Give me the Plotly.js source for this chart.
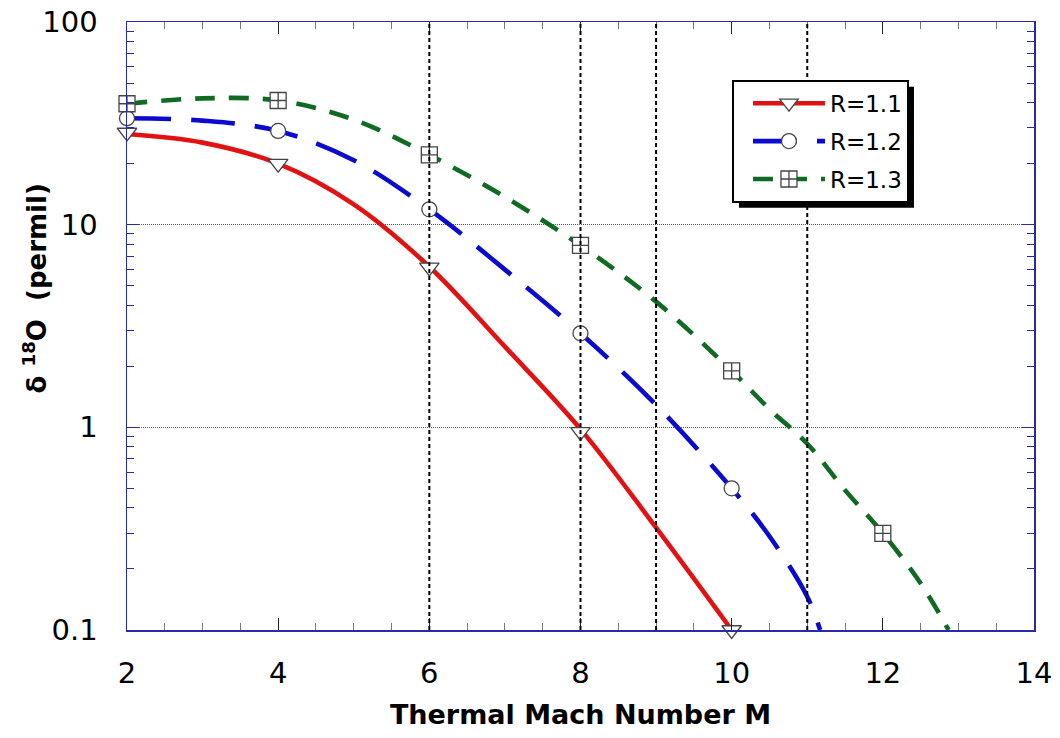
<!DOCTYPE html>
<html><head><meta charset="utf-8">
<script src="https://cdn.plot.ly/plotly-3.0.1.min.js"></script>
<style>html,body{margin:0;padding:0;background:#fff}#chart{width:1060px;height:738px}</style>
</head><body><div id="chart"></div>
<script>
// ---- data ----
const seriesNames = ['R=1.1', 'R=1.2', 'R=1.3'];

const machR11  = [2, 3, 4, 5, 6, 7, 8, 9, 10];
const deltaR11 = [28, 25.4, 20, 12.6, 6.2, 2.5, 0.98, 0.32, 0.1];
const markMachR11  = [2, 4, 6, 8, 10];
const markDeltaR11 = [28.5, 20, 6.15, 0.95, 0.1];

const machR12  = [2, 3, 4, 5, 6, 7, 8, 9, 10, 10.5, 11, 11.17];
const deltaR12 = [33.5, 32.6, 29, 20.8, 11.9, 6.0, 2.91, 1.29, 0.50, 0.29, 0.146, 0.1];
const markMachR12  = [2, 4, 6, 8, 10];
const markDeltaR12 = [33.5, 29, 11.9, 2.91, 0.50];

const machR13  = [2, 3, 4, 5, 6, 7, 8, 9, 10, 10.5, 11, 11.5, 12, 12.5, 12.87];
const deltaR13 = [39.5, 42, 41, 33, 22.1, 13.7, 7.9, 4.17, 1.9, 1.23, 0.83, 0.49, 0.30, 0.17, 0.1];
const markMachR13  = [2, 4, 6, 8, 10, 12];
const markDeltaR13 = [39.5, 41, 22.1, 7.9, 1.9, 0.30];

const refMach = [6, 8, 9, 11];   // vertical dotted reference lines

// ---- styles ----
const styles = [
  {color: '#e31212', dash: 'solid',     symbol: 'triangle-down', size: 17},
  {color: '#0a0ad0', dash: '44px,20px', symbol: 'circle',        size: 15},
  {color: '#0f6b22', dash: '20px,14px', symbol: 'square-cross',  size: 16}
];
const curves = [[machR11, deltaR11], [machR12, deltaR12], [machR13, deltaR13]];
const marks  = [[markMachR11, markDeltaR11], [markMachR12, markDeltaR12], [markMachR13, markDeltaR13]];

const data = [];
curves.forEach((c, i) => {
  data.push({
    x: c[0], y: c[1], type: 'scatter', mode: 'lines', showlegend: false,
    line: {color: styles[i].color, width: 4.6, dash: styles[i].dash, shape: 'spline', smoothing: 1},
    hoverinfo: 'skip'
  });
});
marks.forEach((m, i) => {
  data.push({
    x: m[0], y: m[1], type: 'scatter', mode: 'markers', showlegend: false, cliponaxis: false,
    marker: {symbol: styles[i].symbol, size: styles[i].size, color: '#ffffff',
             line: {color: '#444444', width: 1.3}}
  });
});
seriesNames.forEach((name, i) => {
  data.push({
    x: [null], y: [null], type: 'scatter', mode: 'lines+markers', name: name,
    legendgroup: 'g' + i,
    line: {color: styles[i].color, width: 4.6, dash: styles[i].dash},
    marker: {symbol: styles[i].symbol, size: styles[i].size, color: '#ffffff',
             line: {color: '#444444', width: 1.3}}
  });
});

const axisBlue = '#2a2aa8';
const shapes = refMach.map(v => ({
  type: 'line', xref: 'x', yref: 'paper', x0: v, x1: v, y0: 0, y1: 1,
  layer: 'above', line: {color: '#000', width: 2, dash: '4px,3px'}
}));

const layout = {
  width: 1060, height: 738,
  margin: {l: 127, r: 26, t: 22, b: 108},
  paper_bgcolor: '#ffffff', plot_bgcolor: '#ffffff',
  font: {family: 'DejaVu Sans, sans-serif', color: '#000'},
  showlegend: true,
  xaxis: {
    range: [2, 14], tick0: 2, dtick: 2, ticks: 'inside', ticklen: 12, tickcolor: '#222', tickwidth: 1,
    minor: {dtick: 0.5, ticks: 'inside', ticklen: 7, tickcolor: '#777', tickwidth: 1},
    showline: true, linecolor: axisBlue, linewidth: 1.5, mirror: 'allticks',
    showgrid: false, zeroline: false,
    tickfont: {size: 29, color: '#000'}, ticklabelstandoff: 17,
    title: {text: 'Thermal Mach Number M', font: {size: 27, weight: 'bold', color: '#000'}, standoff: 16}
  },
  yaxis: {
    type: 'log', range: [-1, 2], dtick: 1, ticks: 'inside', ticklen: 12, tickcolor: axisBlue, tickwidth: 1,
    minor: {dtick: 'D1', ticks: 'inside', ticklen: 7, tickcolor: axisBlue, tickwidth: 1, showgrid: false},
    showline: true, linecolor: axisBlue, linewidth: 1.5, mirror: 'allticks',
    showgrid: true, gridcolor: '#3a3aff', gridwidth: 1, griddash: '1px,1px', zeroline: false,
    tickfont: {size: 29, color: '#000'}, ticklabelstandoff: 22
  },
  legend: {
    x: 0.667, y: 0.905, xanchor: 'left', yanchor: 'top',
    bgcolor: '#ffffff', bordercolor: '#000', borderwidth: 2,
    font: {size: 23, color: '#000'}, itemwidth: 72, indentation: 14,
    tracegroupgap: 5, traceorder: 'grouped'
  },
  shapes: shapes,
  annotations: [{
    xref: 'paper', yref: 'paper', x: -0.101, y: 0.5625, xanchor: 'center', yanchor: 'middle',
    textangle: -90, showarrow: false,
    text: 'δ <sup>18</sup>O&nbsp; (permil)',
    font: {size: 26, weight: 'bold', color: '#000'}
  }]
};

const gd = document.getElementById('chart');
Plotly.newPlot(gd, data, layout, {displayModeBar: false, staticPlot: true}).then(() => {
  const bg = gd.querySelector('.legend .bg');
  if (!bg) return;
  const r = bg.getBoundingClientRect();
  const pr = gd.getBoundingClientRect();
  const sz = gd._fullLayout._size;
  const off = 6;
  const px2x = p => (p - pr.left - sz.l) / sz.w;
  const px2y = p => 1 - (p - pr.top - sz.t) / sz.h;
  const shadow = {
    type: 'rect', xref: 'paper', yref: 'paper', layer: 'above',
    x0: px2x(r.left + off), x1: px2x(r.right + off),
    y0: px2y(r.top + off), y1: px2y(r.bottom + off),
    fillcolor: '#000', line: {width: 0}
  };
  return Plotly.relayout(gd, {shapes: shapes.concat([shadow])});
});
</script>
</body></html>
